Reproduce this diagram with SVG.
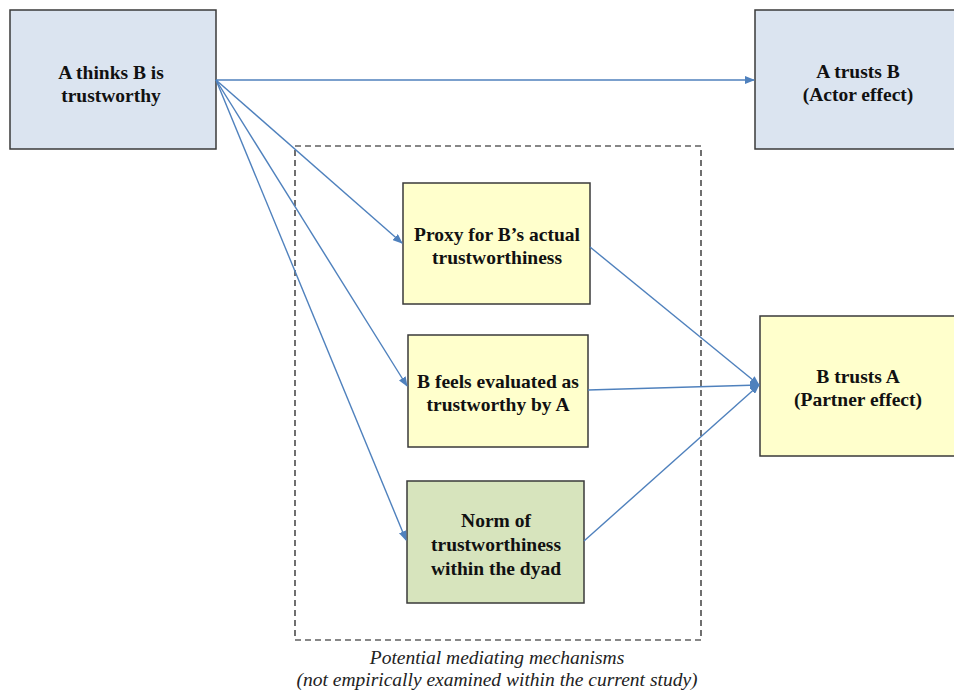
<svg xmlns="http://www.w3.org/2000/svg" width="954" height="691" viewBox="0 0 954 691">
<defs>
<style>
.box{stroke:#3a3a3a;stroke-width:1.5}
.blue{fill:#dbe4f0}
.yel{fill:#ffffcc}
.grn{fill:#d7e4bd}
.t{font-family:"Liberation Serif","Times New Roman",serif;font-weight:bold;font-size:19.5px;fill:#111;text-anchor:middle}
.cap{font-family:"Liberation Serif","Times New Roman",serif;font-style:italic;font-size:19.5px;fill:#222;text-anchor:middle}
.c{stroke:#4f81bd;stroke-width:1.4;fill:none;marker-end:url(#ah)}
</style>
<marker id="ah" markerWidth="10" markerHeight="8" refX="9" refY="4" orient="auto" markerUnits="userSpaceOnUse">
<path d="M0,0 L10,4 L0,8 Z" fill="#4f81bd"/>
</marker>
</defs>
<rect x="0" y="0" width="954" height="691" fill="#fff"/>
<rect x="295" y="146" width="406" height="494" fill="none" stroke="#111" stroke-width="1.2" stroke-dasharray="6,4"/>
<g id="n1"><rect class="box blue" x="10" y="10" width="206" height="139"/><text class="t" x="111" y="79">A thinks B is</text><text class="t" x="111" y="102">trustworthy</text></g>
<g id="n2"><rect class="box blue" x="755" y="10" width="210" height="139"/><text class="t" x="858" y="78">A trusts B</text><text class="t" x="858" y="101">(Actor effect)</text></g>
<g id="n3"><rect class="box yel" x="403" y="183" width="187" height="121"/><text class="t" x="497" y="241">Proxy for B’s actual</text><text class="t" x="497" y="264">trustworthiness</text></g>
<g id="n4"><rect class="box yel" x="408" y="335" width="180" height="112"/><text class="t" x="498" y="388">B feels evaluated as</text><text class="t" x="498" y="411">trustworthy by A</text></g>
<g id="n5"><rect class="box grn" x="407" y="481" width="177" height="122"/><text class="t" x="496" y="527">Norm of</text><text class="t" x="496" y="551">trustworthiness</text><text class="t" x="496" y="575">within the dyad</text></g>
<g id="n6"><rect class="box yel" x="760" y="316" width="210" height="140"/><text class="t" x="858" y="383">B trusts A</text><text class="t" x="858" y="406">(Partner effect)</text></g>
<g id="connectors">
<line class="c" x1="216" y1="80" x2="754" y2="80"/>
<line class="c" x1="216" y1="80" x2="402" y2="243"/>
<line class="c" x1="216" y1="80" x2="407" y2="386"/>
<line class="c" x1="216" y1="80" x2="406" y2="540"/>
<line class="c" x1="590" y1="247" x2="759" y2="385"/>
<line class="c" x1="588" y1="390" x2="759" y2="385"/>
<line class="c" x1="584" y1="541" x2="759" y2="385"/>
</g>
<text class="cap" x="497" y="664">Potential mediating mechanisms</text>
<text class="cap" x="497" y="686">(not empirically examined within the current study)</text>
</svg>
